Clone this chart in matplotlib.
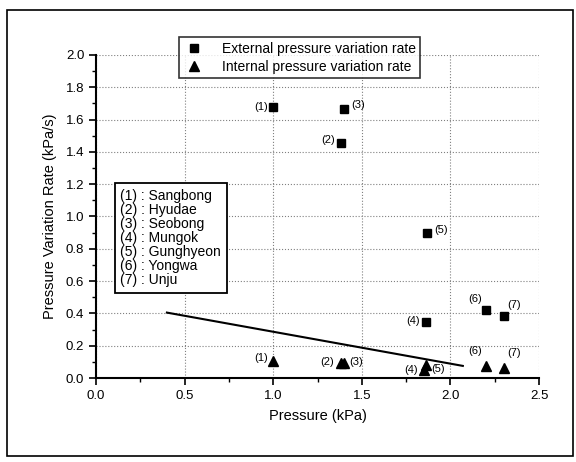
import numpy as np
import matplotlib.pyplot as plt
from matplotlib.patches import Rectangle

plt.rcParams['font.family'] = ['Liberation Sans', 'DejaVu Sans']

# station numbers
labels = ["(1)", "(2)", "(3)", "(4)", "(5)", "(6)", "(7)"]
names = ["Sangbong", "Hyudae", "Seobong", "Mungok", "Gunghyeon", "Yongwa", "Unju"]

# external pressure variation rate
ext_x = [1.00, 1.38, 1.40, 1.86, 1.87, 2.20, 2.30]
ext_y = [1.68, 1.455, 1.665, 0.345, 0.90, 0.42, 0.385]

# internal pressure variation rate
int_x = [1.00, 1.38, 1.40, 1.85, 1.86, 2.20, 2.30]
int_y = [0.105, 0.09, 0.09, 0.05, 0.08, 0.075, 0.06]

# trend line end points
fit_x = [0.40, 2.07]
fit_y = [0.405, 0.075]

# label offsets in points (dx, dy, ha)
ext_off = [(-4, 0, "right"), (-4, 2, "right"), (5, 3, "left"), (-4, 1, "right"),
           (5, 2, "left"), (-3, 8, "right"), (3, 8, "left")]
int_off = [(-4, 2, "right"), (-5, 1, "right"), (4, 1, "left"), (-4, 0, "right"),
           (4, -3, "left"), (-3, 11, "right"), (3, 11, "left")]

fig = plt.figure(figsize=(5.76, 4.62), dpi=100)
ax = fig.add_axes([0.1667, 0.1818, 0.7691, 0.6992])

ax.plot(ext_x, ext_y, "s", color="black", markersize=5.5, label="External pressure variation rate")
ax.plot(int_x, int_y, "^", color="black", markersize=7.5, label="Internal pressure variation rate")
ax.plot(fit_x, fit_y, "-", color="black", linewidth=1.5)

for i in range(len(labels)):
    dx, dy, ha = ext_off[i]
    ax.annotate(labels[i], (ext_x[i], ext_y[i]), xytext=(dx, dy), textcoords="offset points",
                ha=ha, va="center", fontsize=8)
    dx, dy, ha = int_off[i]
    ax.annotate(labels[i], (int_x[i], int_y[i]), xytext=(dx, dy), textcoords="offset points",
                ha=ha, va="center", fontsize=8)

ax.set_xlim(0, 2.5)
ax.set_ylim(0, 2.0)
ax.set_xticks(np.arange(0, 2.51, 0.5))
ax.set_yticks(np.arange(0, 2.01, 0.2))
ax.set_xticks(np.arange(0, 2.51, 0.25), minor=True)
ax.set_yticks(np.arange(0, 2.01, 0.1), minor=True)
ax.tick_params(which="major", direction="out", length=5, width=1.2, labelsize=9.5)
ax.tick_params(which="minor", direction="out", length=3, width=1)
ax.grid(True, which="major", linestyle=":", color="gray", linewidth=0.8)

ax.spines["top"].set_visible(False)
ax.spines["right"].set_visible(False)
ax.spines["left"].set_linewidth(1.5)
ax.spines["bottom"].set_linewidth(1.5)

ax.set_xlabel("Pressure (kPa)", fontsize=10.5, labelpad=5)
ax.set_ylabel("Pressure Variation Rate (kPa/s)", fontsize=10.5, labelpad=6)

leg = ax.legend(loc="upper center", bbox_to_anchor=(0.46, 1.055), fontsize=10, frameon=True,
                fancybox=False, edgecolor="black", handletextpad=1.2, borderpad=0.35,
                labelspacing=0.25, handlelength=1.5, borderaxespad=0)
leg.get_frame().set_linewidth(1.2)

box_text = "\n".join(labels[i] + " : " + names[i] for i in range(len(names)))
ax.text(0.055, 0.585, box_text, transform=ax.transAxes, fontsize=10, va="top", ha="left",
        linespacing=1.0,
        bbox=dict(boxstyle="square,pad=0.4", facecolor="white", edgecolor="black", linewidth=1.3))

# outer frame
fig.patches.append(Rectangle((0.012, 0.012), 0.983, 0.966, transform=fig.transFigure,
                             fill=False, edgecolor="black", linewidth=1.2))

fig.savefig("out.png", dpi=100)
